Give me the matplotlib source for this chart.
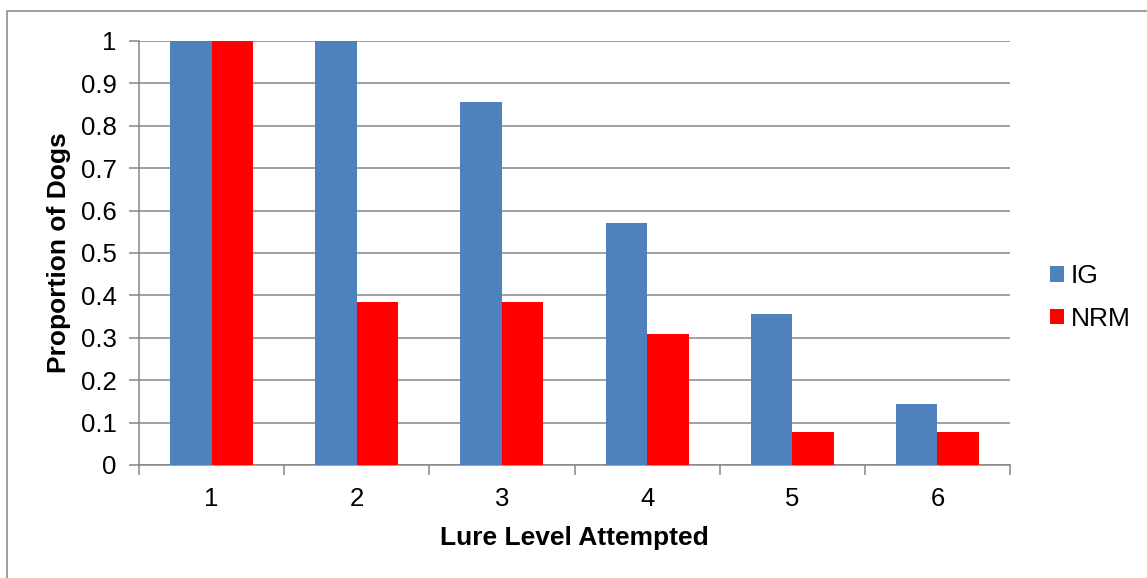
import matplotlib.pyplot as plt
import numpy as np
from matplotlib.patches import Rectangle

plt.rcParams["font.family"] = ["Liberation Sans", "DejaVu Sans"]

levels = ["1", "2", "3", "4", "5", "6"]
ig = [1.0, 1.0, 0.857, 0.571, 0.357, 0.143]
nrm = [1.0, 0.385, 0.385, 0.308, 0.077, 0.077]

blue = "#4F81BD"
red = "#FF0000"
grid_color = "#868686"

fig = plt.figure(figsize=(11.47, 5.78), dpi=100)
W, H = 1147, 578

# outer chart frame (right/bottom edges run off the image)
fig.patches.append(
    Rectangle((7 / W, -0.05), 1.2, (578 - 11) / H + 0.05,
              transform=fig.transFigure, fill=False,
              edgecolor="#8c8c8c", linewidth=1.2)
)

ax = fig.add_axes([139 / W, 1 - 465 / H, (1010 - 139) / W, (465 - 41) / H])

x = np.arange(len(levels))
width = 0.2857
ax.bar(x - width / 2, ig, width, color=blue, label="IG", zorder=3)
ax.bar(x + width / 2, nrm, width, color=red, label="NRM", zorder=3)

ax.set_xlim(-0.5, len(levels) - 0.5)
ax.set_ylim(0, 1)
ax.set_yticks(np.arange(0, 1.01, 0.1))
ax.set_yticklabels(["0", "0.1", "0.2", "0.3", "0.4", "0.5", "0.6",
                    "0.7", "0.8", "0.9", "1"])
ax.yaxis.grid(True, color=grid_color, linewidth=1.1, zorder=0)

ax.set_xticks(x)
ax.set_xticklabels(levels)
ax.set_xticks(np.arange(-0.5, len(levels)), minor=True)
ax.tick_params(axis="x", which="major", length=0, pad=16, labelsize=18.5)
ax.tick_params(axis="x", which="minor", length=7, width=1.1, color=grid_color)
ax.tick_params(axis="y", length=7, width=1.1, color=grid_color,
               labelsize=18.5, pad=9)

for side in ["top", "right"]:
    ax.spines[side].set_visible(False)
for side in ["left", "bottom"]:
    ax.spines[side].set_color(grid_color)
    ax.spines[side].set_linewidth(1.1)

ax.set_xlabel("Lure Level Attempted", fontsize=19, fontweight="bold",
              labelpad=11)
ax.set_ylabel("Proportion of Dogs", fontsize=19, fontweight="bold",
              labelpad=7)

ax.legend(loc="center left", bbox_to_anchor=(1050 / W, 1 - 297.5 / H),
          bbox_transform=fig.transFigure, frameon=False, borderpad=0,
          borderaxespad=0, fontsize=19, handlelength=0.53,
          handleheight=0.53, handletextpad=0.25, labelspacing=0.7)

fig.savefig("out.png", dpi=100)
plt.close(fig)
